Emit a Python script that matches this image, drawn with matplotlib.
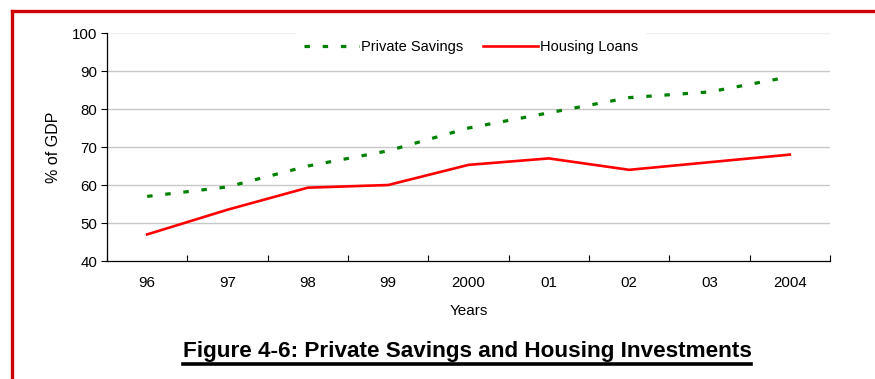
import numpy as np
import matplotlib
matplotlib.use("Agg")
import matplotlib.pyplot as plt
from matplotlib.lines import Line2D

plt.rcParams['font.family'] = ['Liberation Sans', 'DejaVu Sans']

# data
years = ['96', '97', '98', '99', '2000', '01', '02', '03', '2004']
private_savings = [57, 59.5, 65, 69, 75, 79, 83, 84.5, 88.5]
housing_loans = [47, 53.5, 59.3, 60, 65.3, 67, 64, 66, 68]
y_ticks = [40, 50, 60, 70, 80, 90, 100]

fig = plt.figure(figsize=(8.75, 3.79), dpi=100)
ax = fig.add_axes([0.1223, 0.3113, 0.8263, 0.6016])

x = np.arange(len(years))

# gridlines (top one is very faint in the original)
for v in y_ticks[1:]:
    col = '#f0f0f0' if v == 100 else '#c8c8c8'
    ax.axhline(v, color=col, linewidth=1.0, zorder=0)

ax.plot(x, private_savings, color='#008000', linewidth=2.3,
        dashes=(1.7, 4.0), dash_capstyle='butt', label='Private Savings', zorder=3)
ax.plot(x, housing_loans, color='#ff0000', linewidth=1.9,
        label='Housing Loans', zorder=3)

ax.set_xlim(-0.5, len(years) - 0.5)
ax.set_ylim(40, 100)
ax.set_yticks(y_ticks)
ax.set_xticks(x)
ax.set_xticklabels(years)
ax.set_xticks(np.arange(-0.5, len(years)), minor=True)

ax.tick_params(axis='x', which='major', length=0, pad=11, labelsize=10.8)
ax.tick_params(axis='x', which='minor', direction='in', length=4, width=0.8)
ax.tick_params(axis='y', direction='out', length=4, width=0.8, labelsize=10.8, pad=3)

for s in ['top', 'right']:
    ax.spines[s].set_visible(False)
for s in ['left', 'bottom']:
    ax.spines[s].set_linewidth(0.9)
    ax.spines[s].set_color('black')

ax.set_ylabel('% of GDP', fontsize=11.5, labelpad=8)
ax.set_xlabel('Years', fontsize=11, labelpad=10)

leg = ax.legend(loc='center', bbox_to_anchor=(471 / 875, 1 - 47 / 379),
                bbox_transform=fig.transFigure, ncol=2, frameon=True,
                facecolor='white', edgecolor='none', framealpha=1,
                fontsize=10.5, handlelength=3.8, handletextpad=0.15,
                columnspacing=1.3, borderpad=0.5, fancybox=False)

# title with underline
title = fig.text(467 / 875, 1 - 351 / 379,
                 'Figure 4-6: Private Savings and Housing Investments',
                 ha='center', va='center', fontsize=16.2, fontweight='bold')
fig.canvas.draw()
bb = title.get_window_extent(fig.canvas.get_renderer())
x0, x1 = bb.x0 / 875, bb.x1 / 875
yu = 1 - 363.5 / 379
fig.add_artist(Line2D([x0, x1], [yu, yu], transform=fig.transFigure,
                      color='black', linewidth=2.6))

# red page frame
fig.add_artist(Line2D([12 / 875, 1.01], [1 - 11 / 379, 1 - 11 / 379],
                      transform=fig.transFigure, color='#d00000', linewidth=2.4))
fig.add_artist(Line2D([12 / 875, 12 / 875], [1 - 11 / 379, -0.01],
                      transform=fig.transFigure, color='#d00000', linewidth=2.4))

fig.savefig('out.png', dpi=100)
